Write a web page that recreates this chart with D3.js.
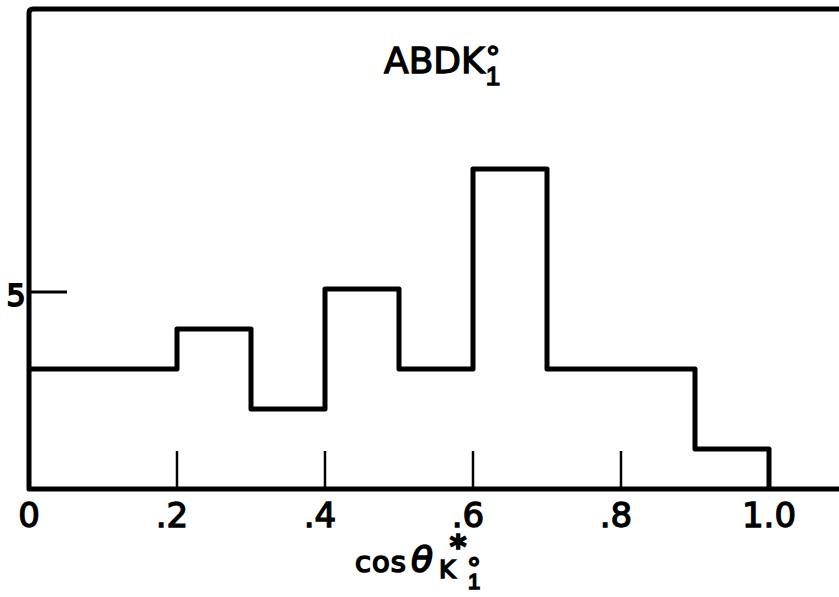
<!DOCTYPE html>
<html>
<head>
<meta charset="utf-8">
<script src="https://cdn.jsdelivr.net/npm/d3@7"></script>
<style>
  html, body { margin: 0; padding: 0; background: #fff; }
  svg { display: block; }
  text { font-family: "DejaVu Sans", sans-serif; fill: #000; stroke: #000; stroke-width: 1.3px; }
</style>
</head>
<body>
<svg id="chart" width="839" height="597"></svg>
<script>
// Histogram of cos θ* for ABDK°1 events, bins of width 0.1
const binEdges = [0, 0.1, 0.2, 0.3, 0.4, 0.5, 0.6, 0.7, 0.8, 0.9, 1.0];
const counts   = [3, 3, 4, 2, 5, 3, 8, 3, 3, 1];
const xTicks      = [0, 0.2, 0.4, 0.6, 0.8, 1.0];
const xTickLabels = ["0", ".2", ".4", ".6", ".8", "1.0"];
const yTicks      = [5];

const W = 839, H = 597;
const svg = d3.select("#chart");

const x = d3.scaleLinear().domain([0, 1]).range([29, 769]);
const y = d3.scaleLinear().domain([0, 12]).range([489, 9]);

// frame: top, left and bottom edges (right edge runs off the page)
const r = 4;
svg.append("path")
  .attr("d", `M${W},${y(12)} L${x(0) + r},${y(12)} Q${x(0)},${y(12)} ${x(0)},${y(12) + r} L${x(0)},${y(0)} L${W},${y(0)}`)
  .attr("fill", "none").attr("stroke", "#000").attr("stroke-width", 5)
  .attr("stroke-linejoin", "round");

// step outline of the histogram
const pts = [];
counts.forEach((c, i) => {
  pts.push([x(binEdges[i]), y(c)]);
  pts.push([x(binEdges[i + 1]), y(c)]);
});
pts.push([x(binEdges[binEdges.length - 1]), y(0)]);
svg.append("path")
  .attr("d", d3.line()(pts))
  .attr("fill", "none").attr("stroke", "#000").attr("stroke-width", 5)
  .attr("stroke-linejoin", "round");

// x ticks rising from the baseline (0 and 1.0 fall on the frame / bar edge)
svg.selectAll(".xtick")
  .data(xTicks.filter(t => t > 0 && t < 1))
  .join("line")
  .attr("x1", d => x(d)).attr("x2", d => x(d))
  .attr("y1", y(0)).attr("y2", y(0) - 38)
  .attr("stroke", "#000").attr("stroke-width", 2.5);

// x tick labels: the digit sits under the tick, the leading point to its left
svg.selectAll(".xlab")
  .data(xTicks)
  .join("text")
  .attr("x", (d, i) => x(d) + (xTickLabels[i].startsWith(".") ? -5 : 0))
  .attr("y", 527)
  .attr("text-anchor", "middle")
  .style("font-size", "34px")
  .text((d, i) => xTickLabels[i]);

// y tick
svg.selectAll(".ytick")
  .data(yTicks)
  .join("line")
  .attr("x1", x(0)).attr("x2", 67)
  .attr("y1", d => y(d) + 3).attr("y2", d => y(d) + 3)
  .attr("stroke", "#000").attr("stroke-width", 3);
svg.selectAll(".ylab")
  .data(yTicks)
  .join("text")
  .attr("x", 16).attr("y", 306)
  .attr("text-anchor", "middle")
  .style("font-size", "30px")
  .style("stroke-width", "1.8px")
  .text(d => d);

// panel title ABDK°1 (superscript and subscript stacked)
const title = svg.append("text").style("font-size", "36px");
title.append("tspan").attr("x", 384).attr("y", 73).text("ABDK");
title.append("tspan").attr("x", 493).attr("y", 68).attr("text-anchor", "middle")
  .style("font-size", "30px").text("°");
title.append("tspan").attr("x", 493).attr("y", 85).attr("text-anchor", "middle")
  .style("font-family", "Liberation Sans, sans-serif").style("font-size", "26px").text("1");

// axis title cos θ*K°1
const xt = svg.append("text").style("font-size", "29px").style("stroke-width", "1.6px");
xt.append("tspan").attr("x", 355).attr("y", 572).style("letter-spacing", "1px").text("cos");
xt.append("tspan").attr("x", 411).attr("y", 572)
  .style("font-size", "36px").style("font-style", "italic").text("θ");
xt.append("tspan").attr("x", 458).attr("y", 557).attr("text-anchor", "middle")
  .style("font-size", "32px").style("font-weight", "bold").text("*");
xt.append("tspan").attr("x", 439).attr("y", 578)
  .style("font-size", "25px").text("K");
xt.append("tspan").attr("x", 474).attr("y", 578).attr("text-anchor", "middle")
  .style("font-size", "28px").text("°");
xt.append("tspan").attr("x", 474).attr("y", 589).attr("text-anchor", "middle")
  .style("font-family", "Liberation Sans, sans-serif").style("font-size", "22px").text("1");
</script>
</body>
</html>
